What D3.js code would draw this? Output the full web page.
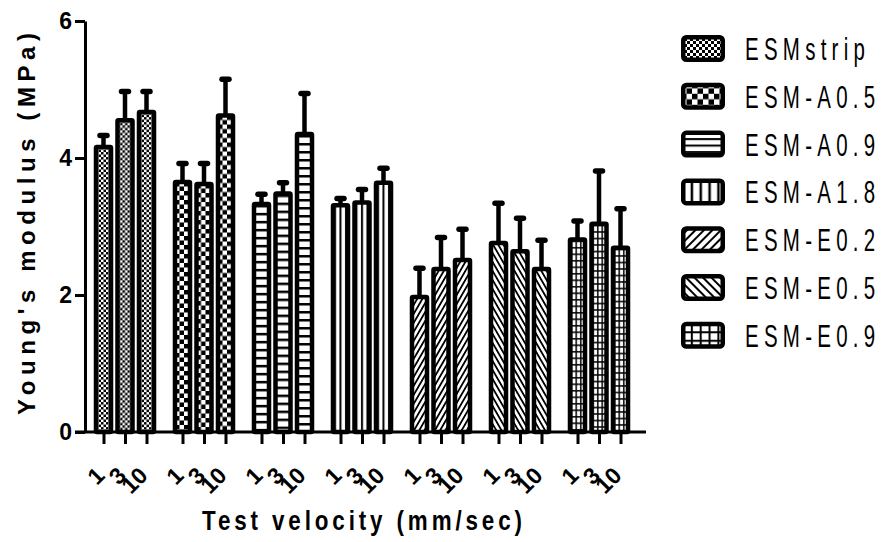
<!DOCTYPE html>
<html>
<head>
<meta charset="utf-8">
<script src="https://cdn.jsdelivr.net/npm/d3@7"></script>
<style>
  html, body { margin: 0; padding: 0; background: #fff; }
  svg { display: block; }
  text { font-family: "Liberation Sans", Arial, sans-serif; fill: #000; }
</style>
</head>
<body>
<svg width="884" height="542"></svg>
<script>
// ---- data ----
const groups = ["ESMstrip", "ESM-A0.5", "ESM-A0.9", "ESM-A1.8", "ESM-E0.2", "ESM-E0.5", "ESM-E0.9"];
const velocities = ["1", "3", "10"];     // mm/sec
const meanValues = [                      // Young's modulus (MPa), one row per group
  [4.16, 4.55, 4.67],
  [3.65, 3.62, 4.62],
  [3.33, 3.48, 4.35],
  [3.31, 3.35, 3.64],
  [1.97, 2.38, 2.51],
  [2.76, 2.64, 2.38],
  [2.81, 3.04, 2.69]
];
const sdValues = [                        // upper error bar length
  [0.17, 0.42, 0.30],
  [0.27, 0.30, 0.53],
  [0.14, 0.16, 0.59],
  [0.10, 0.19, 0.21],
  [0.42, 0.46, 0.45],
  [0.58, 0.48, 0.42],
  [0.27, 0.77, 0.57]
];
const yTicks = [0, 2, 4, 6];

// fill pattern of each group, in legend order
const patternKinds = ["checkFine", "checkBig", "hlines", "vlines", "diagUp", "diagDown", "grid"];

const svg = d3.select("svg");
const defs = svg.append("defs");

// pattern sizes for bars and for the (bigger) legend swatches
const patternSizes = {
  bar: { checkFine: 2.5, checkBig: 4.5, hlines: { p: 8, t: 2.5 }, vlines: { p: 5.5, t: 2, off: 1 },
         diag: { p: 4.5, t: 1.8, rot: 30 }, grid: { px: 4.5, py: 6.5, t: 1.5 } },
  leg: { checkFine: 3, checkBig: 5.5, hlines: { p: 6.5, t: 2 }, vlines: { p: 8.85, t: 2.5, off: 0.8 },
         diag: { p: 6, t: 2, rot: 45 }, grid: { px: 8.85, py: 8.5, t: 2 } }
};

function addPattern(id, kind, s) {
  const p = defs.append("pattern").attr("id", id).attr("patternUnits", "userSpaceOnUse");
  if (kind === "checkFine" || kind === "checkBig") {
    const c = s[kind];
    p.attr("width", 2 * c).attr("height", 2 * c);
    p.append("rect").attr("width", 2 * c).attr("height", 2 * c).attr("fill", "#fff");
    p.append("rect").attr("width", c).attr("height", c).attr("fill", "#000");
    p.append("rect").attr("x", c).attr("y", c).attr("width", c).attr("height", c).attr("fill", "#000");
  } else if (kind === "hlines") {
    const o = s.hlines;
    p.attr("width", 10).attr("height", o.p);
    p.append("rect").attr("width", 10).attr("height", o.p).attr("fill", "#fff");
    p.append("rect").attr("y", 1).attr("width", 10).attr("height", o.t).attr("fill", "#000");
  } else if (kind === "vlines") {
    const o = s.vlines;
    p.attr("width", o.p).attr("height", 10);
    p.append("rect").attr("width", o.p).attr("height", 10).attr("fill", "#fff");
    p.append("rect").attr("x", o.off).attr("width", o.t).attr("height", 10).attr("fill", "#000");
  } else if (kind === "diagUp" || kind === "diagDown") {
    const o = s.diag;
    p.attr("width", o.p).attr("height", 10)
      .attr("patternTransform", `rotate(${kind === "diagUp" ? o.rot : -o.rot})`);
    p.append("rect").attr("width", o.p).attr("height", 10).attr("fill", "#fff");
    p.append("rect").attr("width", o.t).attr("height", 10).attr("fill", "#000");
  } else if (kind === "grid") {
    const o = s.grid;
    p.attr("width", o.px).attr("height", o.py);
    p.append("rect").attr("width", o.px).attr("height", o.py).attr("fill", "#fff");
    p.append("rect").attr("x", 1).attr("width", o.t).attr("height", o.py).attr("fill", "#000");
    p.append("rect").attr("y", 1).attr("width", o.px).attr("height", o.t).attr("fill", "#000");
  }
}

patternKinds.forEach(k => {
  addPattern("bar-" + k, k, patternSizes.bar);
  addPattern("leg-" + k, k, patternSizes.leg);
});

// ---- scales ----
const x0 = d3.scaleBand().domain(groups).range([85.5, 638.5]);
const x1 = d3.scaleBand().domain(velocities).range([0, x0.bandwidth()])
  .paddingInner(0.302).paddingOuter(0.488);
const y = d3.scaleLinear().domain([0, 6]).range([432, 21]);

const barData = [];
groups.forEach((g, i) => velocities.forEach((v, j) => barData.push({
  key: g + "|" + v, group: g, v: v, kind: patternKinds[i],
  mean: meanValues[i][j], sd: sdValues[i][j]
})));
const cx = d => x0(d.group) + x1(d.v) + x1.bandwidth() / 2;

// ---- error bars (drawn under the bars) ----
const err = svg.append("g").attr("stroke", "#000");
err.selectAll("line.stem").data(barData).join("line").attr("class", "stem")
  .attr("x1", cx).attr("x2", cx)
  .attr("y1", d => y(d.mean)).attr("y2", d => y(d.mean + d.sd))
  .attr("stroke-width", 4.5);
err.selectAll("line.cap").data(barData).join("line").attr("class", "cap")
  .attr("x1", d => cx(d) - 3.5).attr("x2", d => cx(d) + 3.5)
  .attr("y1", d => y(d.mean + d.sd)).attr("y2", d => y(d.mean + d.sd))
  .attr("stroke-width", 5.5).attr("stroke-linecap", "round");

// ---- bars ----
const bars = svg.append("g").selectAll("g").data(barData).join("g")
  .attr("transform", d => `translate(${x0(d.group) + x1(d.v)},${y(d.mean)})`);
bars.append("rect")
  .attr("width", x1.bandwidth())
  .attr("height", d => y(0) - y(d.mean))
  .attr("rx", 1)
  .attr("fill", d => `url(#bar-${d.kind})`)
  .attr("stroke", "#000").attr("stroke-width", 4.5);

// ---- y axis ----
const yAxis = svg.append("g").attr("transform", "translate(85,0)")
  .call(d3.axisLeft(y).tickValues(yTicks).tickFormat(d3.format("d"))
    .tickSize(10).tickSizeOuter(0).tickPadding(3));
yAxis.select(".domain").attr("stroke-width", 3);
yAxis.selectAll(".tick line").attr("stroke-width", 3);
yAxis.selectAll(".tick text").attr("font-size", 23).attr("font-weight", "bold")
  .attr("font-family", "Liberation Sans, Arial, sans-serif");

// ---- x axis: one tick per bar ----
const xTickScale = d3.scaleOrdinal().domain(barData.map(d => d.key)).range(barData.map(cx));
const xAxis = svg.append("g").attr("transform", `translate(0,${y(0)})`)
  .call(d3.axisBottom(xTickScale).tickSize(12).tickSizeOuter(0).tickFormat(k => k.split("|")[1]));
xAxis.select(".domain").remove();
xAxis.append("line").attr("x1", 75).attr("x2", 646).attr("stroke", "#000").attr("stroke-width", 3);
xAxis.selectAll(".tick line").attr("stroke-width", 3);
xAxis.selectAll(".tick text")
  .attr("font-size", 23).attr("font-weight", "bold")
  .attr("font-family", "Liberation Sans, Arial, sans-serif")
  .attr("text-anchor", "end").attr("dy", null)
  .attr("y", 0)
  .attr("transform", "translate(2,45) rotate(-45)");

// ---- axis titles ----
svg.append("text")
  .attr("transform", "translate(35,224) rotate(-90)")
  .attr("text-anchor", "middle")
  .attr("font-size", 24).attr("font-weight", "bold")
  .attr("textLength", 382).attr("lengthAdjust", "spacing")
  .text("Young's modulus (MPa)");

svg.append("text")
  .attr("transform", "translate(362,530) scale(0.8,1)")
  .attr("text-anchor", "middle")
  .attr("font-size", 28).attr("font-weight", "bold")
  .attr("textLength", 400).attr("lengthAdjust", "spacing")
  .text("Test velocity (mm/sec)");

// ---- legend ----
const legend = svg.append("g").selectAll("g").data(groups).join("g")
  .attr("transform", (d, i) => `translate(681,${35 + i * 47.8})`);
legend.append("rect")
  .attr("x", 2.25).attr("y", 2.25).attr("width", 39.5).attr("height", 22.5).attr("rx", 3)
  .attr("fill", (d, i) => `url(#leg-${patternKinds[i]})`)
  .attr("stroke", "#000").attr("stroke-width", 4.5);
legend.append("text")
  .attr("transform", "translate(64,25) scale(0.66,1)")
  .attr("font-size", 31)
  .attr("letter-spacing", 8)
  .text(d => d);
</script>
</body>
</html>
